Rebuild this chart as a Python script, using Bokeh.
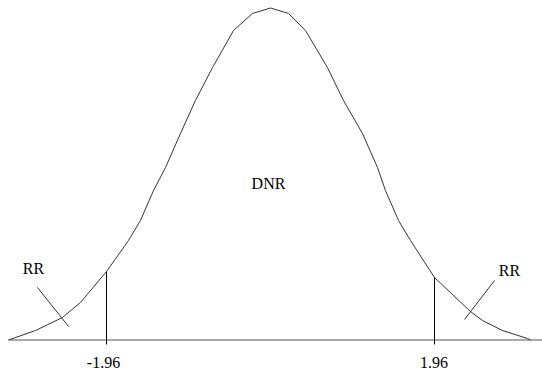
from bokeh.plotting import figure
from bokeh.models import Range1d
from bokeh.core.properties import value
from bokeh.embed import file_html
from bokeh.resources import INLINE

# standard normal curve (z, density)
curve_z = [-3.131, -2.809, -2.486, -2.271, -1.960, -1.697, -1.554, -1.398, -1.255, -1.076,
           -0.897, -0.693, -0.442, -0.215, 0.0, 0.215, 0.418, 0.681, 0.872, 1.099,
           1.279, 1.374, 1.530, 1.673, 1.960, 2.390, 2.534, 2.773, 3.072, 3.107]
curve_h = [0.0, 0.0114, 0.0271, 0.0452, 0.0825, 0.1199, 0.1440, 0.1801, 0.2078, 0.2488,
           0.2886, 0.3283, 0.3729, 0.3934, 0.4000, 0.3934, 0.3729, 0.3283, 0.2886, 0.2488,
           0.2078, 0.1801, 0.1440, 0.1199, 0.0753, 0.0343, 0.0235, 0.0114, 0.0018, 0.0]

critical_z = [-1.96, 1.96]
critical_h = [0.0825, 0.0753]
critical_labels = ["-1.96", "1.96"]

region_labels = ["RR", "DNR", "RR"]
region_z = [-2.833, -0.024, 2.856]
region_h = [0.0861, 0.1886, 0.0837]

pointer_z0 = [-2.785, 2.677]
pointer_h0 = [0.0633, 0.0717]
pointer_z1 = [-2.414, 2.319]
pointer_h1 = [0.0163, 0.0247]

X0, X1 = -3.2269, 3.2508
Y0, Y1 = -0.03916, 0.40904

p = figure(width=542, height=372, output_backend="svg", toolbar_location=None,
           x_range=Range1d(X0, X1), y_range=Range1d(Y0, Y1),
           min_border=0, outline_line_color=None)
p.axis.visible = False
p.grid.visible = False
p.background_fill_color = "white"
p.border_fill_color = "white"

FONT = "Liberation Serif"

# baseline
p.line([curve_z[0], X1], [0, 0], line_color="#555555", line_width=1)
# curve
p.line(curve_z, curve_h, line_color="#333333", line_width=1)
# critical value lines
p.segment(x0=critical_z, y0=[-0.0054] * 2, x1=critical_z, y1=critical_h,
          line_color="black", line_width=1)
# pointers
p.segment(x0=pointer_z0, y0=pointer_h0, x1=pointer_z1, y1=pointer_h1,
          line_color="#333333", line_width=1)

p.text(x=[-1.996, 1.955], y=[-0.0277, -0.0277], text=critical_labels,
       text_font=value(FONT), text_font_size="16px", text_color="black",
       text_align="center", text_baseline="middle")
p.text(x=region_z, y=region_h, text=region_labels,
       text_font=value(FONT), text_font_size="16px", text_color="black",
       text_align="center", text_baseline="middle")

open("out.html", "w").write(file_html(p, INLINE))
